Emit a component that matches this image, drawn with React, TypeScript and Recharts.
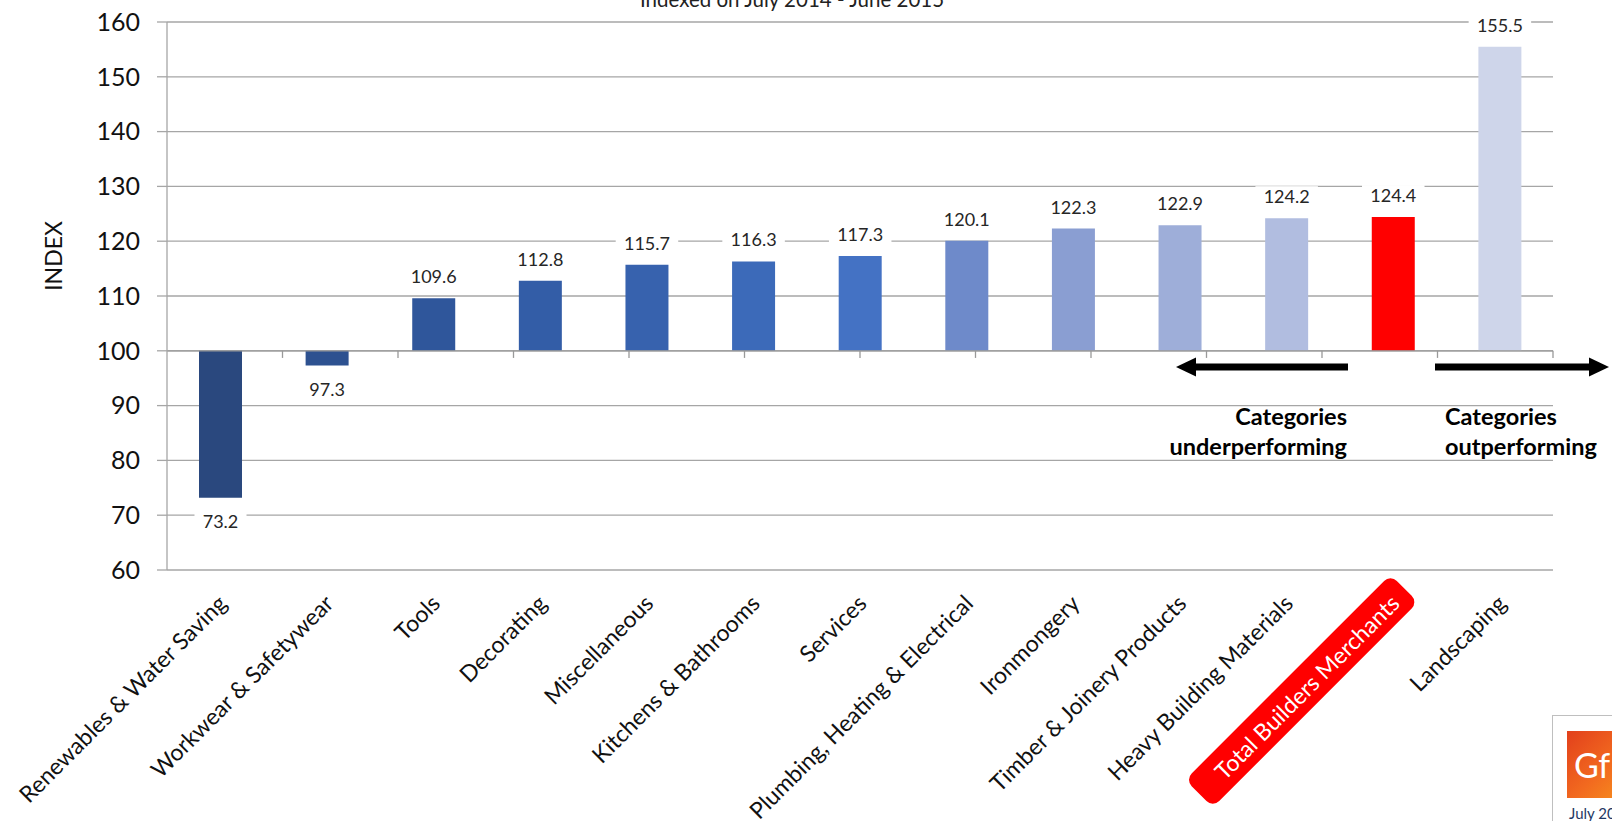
import React from 'react';
import {
  BarChart,
  Bar,
  XAxis,
  YAxis,
  CartesianGrid,
  Cell,
  LabelList,
  ReferenceLine,
} from 'recharts';

// values
const categories = [
  'Renewables & Water Saving',
  'Workwear & Safetywear',
  'Tools',
  'Decorating',
  'Miscellaneous',
  'Kitchens & Bathrooms',
  'Services',
  'Plumbing, Heating & Electrical',
  'Ironmongery',
  'Timber & Joinery Products',
  'Heavy Building Materials',
  'Total Builders Merchants',
  'Landscaping',
];

const indexValues = [73.2, 97.3, 109.6, 112.8, 115.7, 116.3, 117.3, 120.1, 122.3, 122.9, 124.2, 124.4, 155.5];

const barColors = [
  '#2A487E',
  '#2D5190',
  '#2F569B',
  '#335DA7',
  '#3762AE',
  '#3C6AB9',
  '#4472C4',
  '#6E8ACA',
  '#8A9ED2',
  '#9EAED9',
  '#B1BDE0',
  '#FF0000',
  '#CED5EA',
];

const yTicks = [60, 70, 80, 90, 100, 110, 120, 130, 140, 150, 160];
const baseline = 100;
const highlighted = 'Total Builders Merchants';
const boundaries = [1, 2, 3, 4, 5, 6, 7, 8, 9, 10, 11, 12];

const data = categories.map((name, i) => ({
  name,
  value: indexValues[i],
  range: [baseline, indexValues[i]],
}));

const FONT = 'Lato, "Open Sans", sans-serif';
const GRID = '#A6A6A6';
const CAT_SIZE = 23;

const CategoryTick = (props: any) => {
  const { x, y, payload } = props;
  const label = String(payload.value);
  const ax = x + 8;
  const ay = y + 33;
  if (label === highlighted) {
    const w = label.length * CAT_SIZE * 0.475;
    return (
      <g transform={`translate(${ax},${ay}) rotate(-45)`}>
        <rect x={-w - 14} y={-29} width={w + 28} height={39} rx={9} fill="#FF0000" />
        <text x={0} y={0} textAnchor="end" fontFamily={FONT} fontSize={CAT_SIZE} fill="#FFFFFF">
          {label}
        </text>
      </g>
    );
  }
  return (
    <g transform={`translate(${ax},${ay}) rotate(-45)`}>
      <text x={0} y={0} textAnchor="end" fontFamily={FONT} fontSize={CAT_SIZE} fill="#111">
        {label}
      </text>
    </g>
  );
};

const ValueLabel = (props: any) => {
  const { x, y, width, height, value } = props;
  const top = Math.min(y, y + height);
  const bottom = Math.max(y, y + height);
  const cx = x + width / 2;
  const cy = value >= baseline ? top - 21 : bottom + 24;
  const txt = value.toFixed(1);
  const bw = txt.length * 10.5 + 10;
  return (
    <g>
      <rect x={cx - bw / 2} y={cy - 11} width={bw} height={22} fill="#FFFFFF" />
      <text x={cx} y={cy} dy={6} textAnchor="middle" fontFamily={FONT} fontSize={18} fill="#262626">
        {txt}
      </text>
    </g>
  );
};

const IndexLabel = (props: any) => {
  const vb = props.viewBox || {};
  const lx = (vb.x || 0) + 53;
  const ly = (vb.y || 0) + (vb.height || 0) / 2 - 40;
  return (
    <text
      x={lx}
      y={ly}
      transform={`rotate(-90, ${lx}, ${ly})`}
      textAnchor="middle"
      dominantBaseline="central"
      fontFamily={FONT}
      fontSize={23}
      fill="#111"
    >
      INDEX
    </text>
  );
};

const App: React.FC = () => {
  return (
    <div style={{ position: 'absolute', left: 0, top: 0, width: 1612, height: 821, overflow: 'hidden', background: '#fff' }}>
      <BarChart width={1612} height={821} data={data} margin={{ top: 22, right: 59, bottom: 0, left: 0 }}>
        <CartesianGrid xAxisId="cat" vertical={false} stroke={GRID} strokeWidth={1.3} />
        <XAxis
          xAxisId="cat"
          dataKey="name"
          type="category"
          height={251}
          interval={0}
          axisLine={false}
          tickLine={false}
          tickSize={0}
          tick={<CategoryTick />}
        />
        <XAxis xAxisId="grid" type="number" domain={[0, 13]} allowDataOverflow hide />
        <YAxis
          domain={[60, 160]}
          ticks={yTicks}
          width={167}
          allowDataOverflow
          tickSize={10}
          tickMargin={17}
          axisLine={{ stroke: GRID, strokeWidth: 1.3 }}
          tickLine={{ stroke: GRID, strokeWidth: 1.3 }}
          tick={{ fontFamily: FONT, fontSize: 25, fill: '#111' }}
          label={<IndexLabel />}
        />
        <ReferenceLine xAxisId="cat" y={baseline} stroke="#999999" strokeWidth={1.3} />
        {boundaries.map((b) => (
          <ReferenceLine
            key={b}
            xAxisId="grid"
            segment={[
              { x: b, y: baseline },
              { x: b, y: baseline - 1.3 },
            ]}
            stroke="#999999"
            strokeWidth={1.3}
          />
        ))}
        <Bar xAxisId="cat" dataKey="range" barSize={43} isAnimationActive={false}>
          {data.map((d, i) => (
            <Cell key={d.name} fill={barColors[i]} />
          ))}
          <LabelList dataKey="value" content={<ValueLabel />} />
        </Bar>
      </BarChart>

      <svg
        width={1612}
        height={821}
        style={{ position: 'absolute', left: 0, top: 0, pointerEvents: 'none' }}
      >
        <text x={792} y={7} textAnchor="middle" fontFamily={FONT} fontSize={20.5} fill="#222">
          Indexed on July 2014 - June 2015
        </text>
        {/* underperforming arrow */}
        <rect x={1193} y={363.5} width={155} height={7} fill="#000" />
        <polygon points="1176,367 1196,357.5 1196,376.5" fill="#000" />
        {/* outperforming arrow */}
        <rect x={1435} y={363.5} width={156} height={7} fill="#000" />
        <polygon points="1609,367 1589,357.5 1589,376.5" fill="#000" />
        <text x={1347} y={425} textAnchor="end" fontFamily={FONT} fontWeight={700} fontSize={23.5} fill="#000">
          Categories
        </text>
        <text x={1347} y={455} textAnchor="end" fontFamily={FONT} fontWeight={700} fontSize={23.5} fill="#000">
          underperforming
        </text>
        <text x={1445} y={425} fontFamily={FONT} fontWeight={700} fontSize={23.5} fill="#000">
          Categories
        </text>
        <text x={1445} y={455} fontFamily={FONT} fontWeight={700} fontSize={23.5} fill="#000">
          outperforming
        </text>
      </svg>

      <div
        style={{
          position: 'absolute',
          left: 1552,
          top: 715,
          width: 120,
          height: 130,
          border: '1px solid #BFBFBF',
          background: '#fff',
        }}
      >
        <div
          style={{
            position: 'absolute',
            left: 14,
            top: 15,
            width: 68,
            height: 67,
            background: 'linear-gradient(135deg, #E2401C 0%, #F26A1F 55%, #F7941D 100%)',
            color: '#fff',
            fontFamily: FONT,
            fontSize: 34,
            lineHeight: '67px',
            paddingLeft: 7,
            boxSizing: 'border-box',
          }}
        >
          GfK
        </div>
        <div
          style={{
            position: 'absolute',
            left: 16,
            top: 88,
            fontFamily: FONT,
            fontSize: 15,
            color: '#1F3864',
            whiteSpace: 'nowrap',
          }}
        >
          July 2015
        </div>
      </div>
    </div>
  );
};

export default App;
